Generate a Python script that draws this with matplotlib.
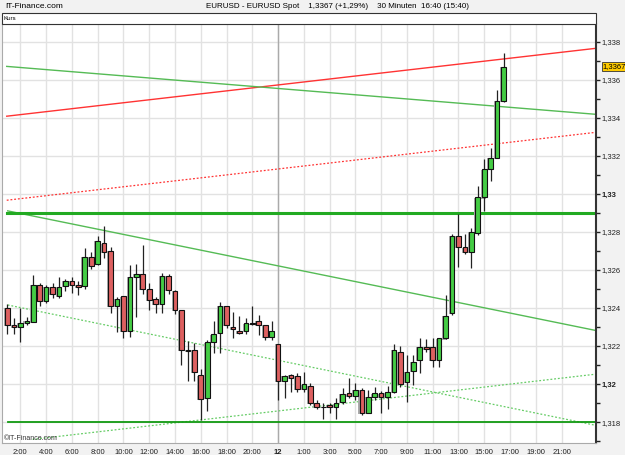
import numpy as np
import matplotlib
matplotlib.use('Agg')
import matplotlib.pyplot as plt
from matplotlib.patches import Rectangle
from matplotlib.ticker import MultipleLocator

plt.rcParams['font.family'] = ['Liberation Sans', 'DejaVu Sans']

# EUR/USD 30 min candles, 11th 1:00 -> 12th 16:30
opens = [1.32402, 1.32311, 1.32300, 1.32320, 1.32328, 1.32521, 1.32439, 1.32512, 1.32464, 1.32516,
         1.32542, 1.32521, 1.32514, 1.32670, 1.32630, 1.32741, 1.32700, 1.32411, 1.32462, 1.32279,
         1.32562, 1.32579, 1.32499, 1.32448, 1.32420, 1.32570, 1.32490, 1.32388, 1.32173, 1.32180,
         1.32046, 1.31928, 1.32220, 1.32270, 1.32411, 1.32300, 1.32279, 1.32279, 1.32315, 1.32332,
         1.32311, 1.32249, 1.32211, 1.32018, 1.32048, 1.32043, 1.31973, 1.31990, 1.31899, 1.31878,
         1.31890, 1.31878, 1.31908, 1.31952, 1.31937, 1.31969, 1.31849, 1.31931, 1.31952, 1.31931,
         1.31957, 1.32171, 1.32011, 1.32067, 1.32125, 1.32195, 1.32195, 1.32125, 1.32240, 1.32373,
         1.32781, 1.32720, 1.32693, 1.32793, 1.32982, 1.33130, 1.33191, 1.33490]
closes = [1.32311, 1.32299, 1.32322, 1.32332, 1.32521, 1.32439, 1.32512, 1.32472, 1.32512, 1.32542,
          1.32521, 1.32512, 1.32670, 1.32621, 1.32753, 1.32693, 1.32411, 1.32448, 1.32279, 1.32563,
          1.32579, 1.32500, 1.32443, 1.32420, 1.32570, 1.32494, 1.32388, 1.32180, 1.32180, 1.32062,
          1.31922, 1.32220, 1.32262, 1.32411, 1.32311, 1.32290, 1.32270, 1.32320, 1.32320, 1.32311,
          1.32249, 1.32279, 1.32018, 1.32043, 1.32031, 1.31973, 1.31999, 1.31899, 1.31881, 1.31880,
          1.31878, 1.31899, 1.31948, 1.31939, 1.31969, 1.31849, 1.31934, 1.31952, 1.31931, 1.31957,
          1.32180, 1.32001, 1.32065, 1.32118, 1.32195, 1.32185, 1.32125, 1.32240, 1.32360, 1.32781,
          1.32723, 1.32693, 1.32802, 1.32982, 1.33130, 1.33191, 1.33490, 1.33670]
highs = [1.32421, 1.32349, 1.32402, 1.32355, 1.32574, 1.32530, 1.32521, 1.32530, 1.32562, 1.32553,
         1.32565, 1.32542, 1.32714, 1.32693, 1.32781, 1.32832, 1.32723, 1.32460, 1.32464, 1.32627,
         1.32630, 1.32732, 1.32530, 1.32460, 1.32583, 1.32578, 1.32495, 1.32390, 1.32227, 1.32215,
         1.32078, 1.32232, 1.32332, 1.32434, 1.32413, 1.32381, 1.32360, 1.32346, 1.32411, 1.32363,
         1.32313, 1.32332, 1.32213, 1.32048, 1.32052, 1.32057, 1.32062, 1.32004, 1.31917, 1.31899,
         1.31899, 1.31926, 1.31981, 1.32031, 1.32008, 1.31978, 1.31969, 1.31987, 1.31964, 1.31990,
         1.32210, 1.32201, 1.32153, 1.32153, 1.32244, 1.32235, 1.32240, 1.32242, 1.32469, 1.32790,
         1.32893, 1.32790, 1.32823, 1.33042, 1.33182, 1.33240, 1.33546, 1.33742]
lows = [1.32264, 1.32262, 1.32220, 1.32311, 1.32326, 1.32411, 1.32425, 1.32455, 1.32451, 1.32490,
        1.32478, 1.32469, 1.32500, 1.32604, 1.32628, 1.32662, 1.32373, 1.32276, 1.32241, 1.32246,
        1.32351, 1.32472, 1.32390, 1.32373, 1.32373, 1.32474, 1.32369, 1.32101, 1.32018, 1.32016,
        1.31811, 1.31859, 1.32162, 1.32162, 1.32294, 1.32241, 1.32262, 1.32262, 1.32313, 1.32258,
        1.32232, 1.32232, 1.31917, 1.31929, 1.31958, 1.31960, 1.31960, 1.31890, 1.31870, 1.31818,
        1.31846, 1.31818, 1.31894, 1.31926, 1.31917, 1.31837, 1.31847, 1.31917, 1.31849, 1.31870,
        1.31955, 1.31986, 1.31908, 1.31995, 1.32060, 1.32170, 1.32091, 1.32091, 1.32238, 1.32364,
        1.32618, 1.32683, 1.32609, 1.32784, 1.32912, 1.33070, 1.33189, 1.33485]

time_pos = [2, 6, 10, 14, 18, 22, 26, 30, 34, 38, 42, 46, 50, 54, 58, 62, 66, 70, 74, 78, 82, 86]
time_labels = ['2:00', '4:00', '6:00', '8:00', '10:00', '12:00', '14:00', '16:00', '18:00', '20:00', '12',
               '1:00', '3:00', '5:00', '7:00', '9:00', '11:00', '13:00', '15:00', '17:00', '19:00', '21:00']
day_break = 42

# trend lines: (x start, x end), (price start, price end)
red_solid = ([-0.12, 91.3], [1.33409, 1.33766])
red_dotted = ([-0.12, 91.3], [1.32967, 1.33324])
green_upper = ([-0.12, 91.3], [1.33671, 1.33419])
green_channel = ([0.03, 91.3], [1.32911, 1.32282])
green_dot_down = ([0.03, 91.3], [1.32416, 1.31783])
green_dot_up = ([3.9, 91.3], [1.31709, 1.32052])
resistance = 1.3290
support = 1.3180

W, H = 625, 455
fig = plt.figure(figsize=(W / 100, H / 100), dpi=100, facecolor='#f2f2f2')
ax = fig.add_axes([1.7 / W, 12 / H, 594 / W, 419 / H])
ax.set_facecolor('white')

x = np.arange(len(opens))
o = np.array(opens); c = np.array(closes)
up = c >= o

ax.plot(*red_solid, color='#ff3333', lw=1.0, zorder=2)
ax.plot(*red_dotted, color='#ff3333', lw=0.9, ls=(0, (1.5, 1.5)), zorder=2)
ax.plot(*green_upper, color='#55bb55', lw=1.0, zorder=2)
ax.plot(*green_channel, color='#55bb55', lw=1.0, zorder=2)
ax.plot(*green_dot_down, color='#66cc66', lw=0.9, ls=(0, (1.5, 1.5)), zorder=2)
ax.plot(*green_dot_up, color='#66cc66', lw=0.9, ls=(0, (1.5, 1.5)), zorder=2)
ax.plot([0, 91.3], [resistance, resistance], color='#22aa22', lw=2.2, zorder=2)
ax.plot([0.03, 91.3], [support, support], color='#119911', lw=1.3, zorder=2)

# grey drop shadow, then wicks and bodies
ax.bar(x - 0.16, np.abs(c - o) + 0.00004, bottom=np.minimum(o, c) - 0.00006, width=0.72,
       color='#aaaaaa', lw=0, zorder=3)
ax.vlines(x, lows, highs, color='#222222', lw=0.9, zorder=3)
ax.bar(x, np.abs(c - o), bottom=np.minimum(o, c), width=0.72,
       color=np.where(up, '#44cc44', '#dd6060'), edgecolor='#111111', lw=0.8, zorder=4)

ax.axvline(day_break, color='#aaaaaa', lw=1.0, zorder=1)
ax.set_xlim(-0.9, 91.3)
ax.set_ylim(1.3169, 1.33894)

ax.set_xticks(time_pos)
ax.set_xticklabels(time_labels)
for lab in ax.get_xticklabels():
    if lab.get_text() == '12':
        lab.set_fontweight('bold')
        lab.set_fontsize(6.5)
ax.tick_params(axis='x', length=0, labelsize=5.5, pad=4, colors='#222222')

ax.yaxis.tick_right()
yt = np.arange(1.318, 1.3385, 0.002)
ax.set_yticks(yt)
ax.set_yticklabels([('%.3f' % v).rstrip('0').replace('.', ',') for v in yt])
for lab in ax.get_yticklabels():
    if len(lab.get_text()) == 4:
        lab.set_fontweight('bold')
        lab.set_fontsize(6.5)
ax.yaxis.set_minor_locator(MultipleLocator(0.001))
ax.tick_params(axis='y', which='major', length=3, width=1, labelsize=5.5, pad=1.5, colors='#222222')
ax.tick_params(axis='y', which='minor', length=3, width=1, color='#222222')

ax.grid(True, color='#e2e2e2', lw=1.0, zorder=0)
ax.set_axisbelow(True)
for s in ['left', 'top', 'bottom']:
    ax.spines[s].set_color('#aaaaaa')
ax.spines['right'].set_color('#333333')
ax.spines['right'].set_linewidth(1.5)

ax.text(1.012, closes[-1], ('%.4f' % closes[-1]).replace('.', ','), transform=ax.get_yaxis_transform(),
        fontsize=5.5, va='center', ha='left',
        bbox=dict(boxstyle='square,pad=0.15', fc='#ffcc00', ec='#333333', lw=0.6))
ax.text(0.003, 0.008, '©IT-Finance.com', transform=ax.transAxes, fontsize=5, color='#333333')

fig.patches.append(Rectangle((1.7 / W, 1 - 24 / H), 594 / W, 11 / H, transform=fig.transFigure,
                             fc='white', ec='#333333', lw=0.8))
fig.text(4 / W, 1 - 18.5 / H, 'Kurs', fontsize=4.5, va='center')
fig.text(5 / W, 1 - 6 / H, 'IT-Finance.com', fontsize=6, va='center')
fig.text(338 / W, 1 - 6 / H, 'EURUSD - EURUSD Spot    1,3367 (+1,29%)    30 Minuten  16:40 (15:40)',
         fontsize=5.8, va='center', ha='center')

plt.savefig('out.png', dpi=100, facecolor=fig.get_facecolor())
